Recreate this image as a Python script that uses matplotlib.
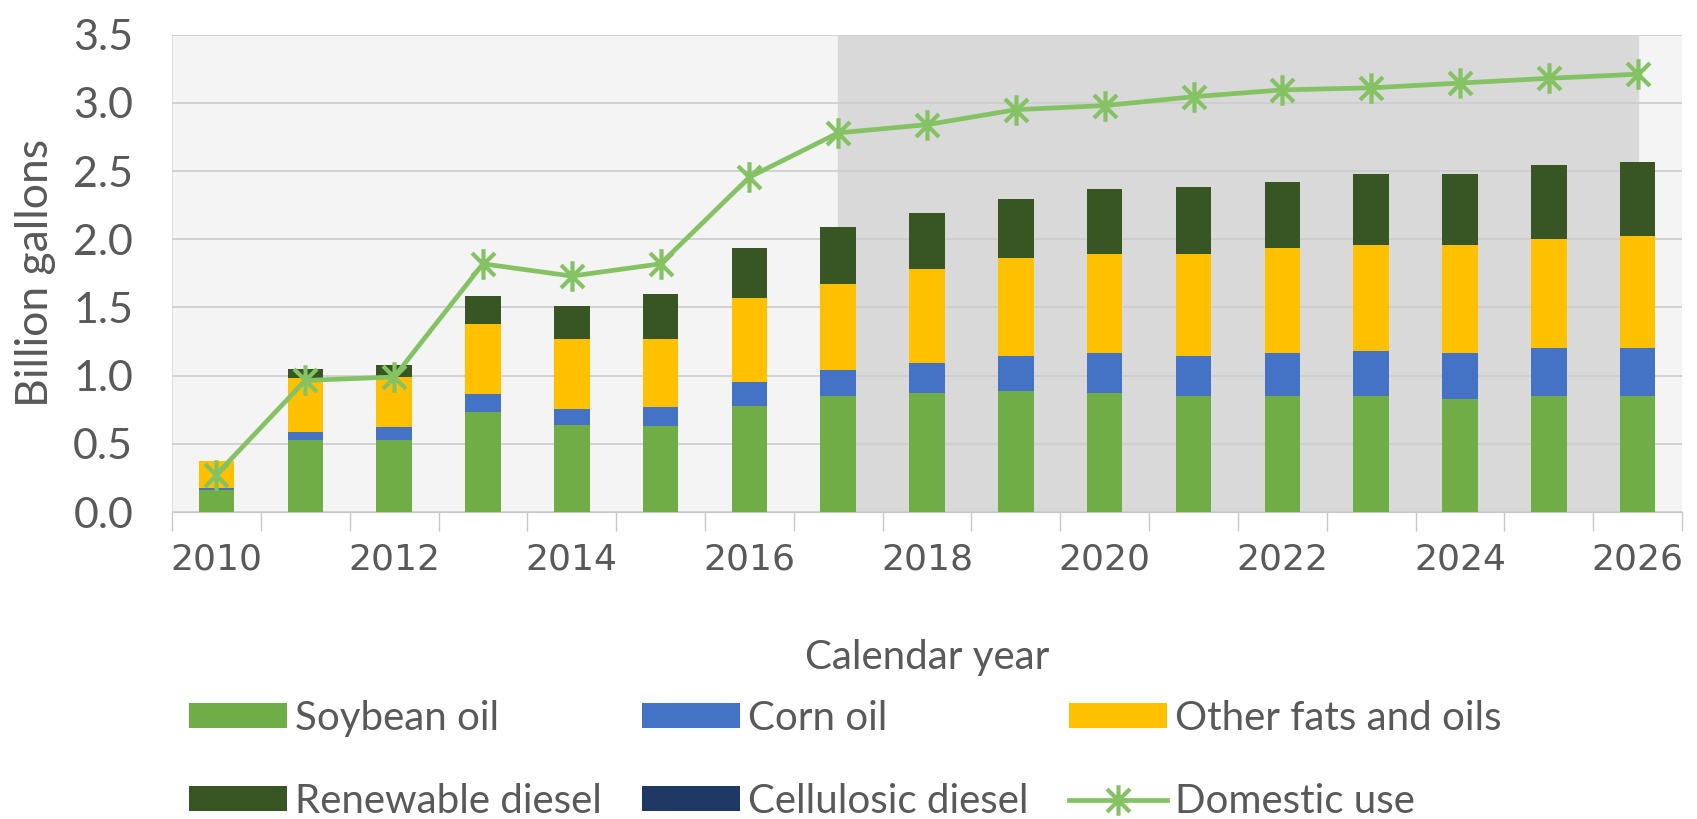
import numpy as np
import matplotlib.pyplot as plt
from matplotlib.path import Path

years = list(range(2010, 2027))
soybean = [0.16, 0.53, 0.53, 0.73, 0.64, 0.63, 0.78, 0.85, 0.87, 0.89, 0.87, 0.85, 0.85, 0.85, 0.83, 0.85, 0.85]
corn = [0.015, 0.06, 0.09, 0.135, 0.117, 0.142, 0.17, 0.19, 0.22, 0.255, 0.295, 0.295, 0.315, 0.328, 0.335, 0.353, 0.353]
other = [0.20, 0.39, 0.37, 0.51, 0.51, 0.50, 0.62, 0.63, 0.69, 0.72, 0.73, 0.75, 0.77, 0.78, 0.79, 0.80, 0.82]
renewable = [0.0, 0.07, 0.09, 0.21, 0.24, 0.33, 0.365, 0.42, 0.41, 0.43, 0.47, 0.49, 0.485, 0.52, 0.52, 0.54, 0.54]
cellulosic = [0.0] * 17
domestic = [0.275, 0.965, 0.99, 1.82, 1.73, 1.82, 2.455, 2.78, 2.84, 2.95, 2.98, 3.045, 3.095, 3.11, 3.145, 3.18, 3.21]
proj_start, proj_end = 2017, 2026

plt.rcParams['font.family'] = ['Lato', 'DejaVu Sans']
txt = "#595959"

x = np.arange(len(years))
fig = plt.figure(figsize=(16.97, 8.19), dpi=100)
ax = fig.add_axes([0.1014, 0.3748, 0.8898, 0.5829])
ax.set_facecolor("#f4f4f4")

# projection period shading
ax.axvspan(years.index(proj_start), years.index(proj_end), color="#d9d9d9", zorder=0)

series = [
    (soybean, "#70ad47", "Soybean oil"),
    (corn, "#4472c4", "Corn oil"),
    (other, "#ffc000", "Other fats and oils"),
    (renewable, "#375623", "Renewable diesel"),
    (cellulosic, "#203864", "Cellulosic diesel"),
]
bottom = np.zeros(len(years))
handles = {}
for vals, col, lab in series:
    b = ax.bar(x, vals, 0.4, bottom=bottom, color=col, label=lab, zorder=3)
    handles[lab] = b
    bottom += np.array(vals)

# Excel-style asterisk marker
ast = Path([(0, -1), (0, 1), (-0.75, -0.75), (0.75, 0.75), (-0.75, 0.75), (0.75, -0.75)],
           [Path.MOVETO, Path.LINETO, Path.MOVETO, Path.LINETO, Path.MOVETO, Path.LINETO])
ln, = ax.plot(x, domestic, color="#84c263", lw=3.4, marker=ast, ms=22, mew=3,
              mec="#84c263", mfc="none", label="Domestic use", zorder=4)
handles["Domestic use"] = ln

ax.set_xlim(-0.5, len(years) - 0.5)
ax.set_ylim(0, 3.5)
ax.set_yticks(np.arange(0, 3.51, 0.5))
ax.set_yticklabels([f"{v:.1f}" for v in np.arange(0, 3.51, 0.5)])
ax.set_xticks(x[::2])
ax.set_xticklabels([str(y) for y in years[::2]], family="DejaVu Sans")
ax.set_xticks(np.arange(-0.5, len(years), 1), minor=True)
ax.tick_params(axis="x", which="major", length=0, pad=22, labelsize=26, colors=txt)
ax.tick_params(axis="x", which="minor", length=14, width=1, color="#c8c8c8")
ax.tick_params(axis="y", length=0, pad=28, labelsize=31, colors=txt)
ax.grid(axis="y", color="#cccccc", lw=1.2, zorder=1)
ax.set_axisbelow(False)
for s in ["top", "right"]:
    ax.spines[s].set_visible(False)
ax.spines["left"].set_color("#e0e0e0")
ax.spines["bottom"].set_color("#c8c8c8")

ax.set_ylabel("Billion gallons", fontsize=32, color=txt)
ax.yaxis.set_label_coords(-0.077, 0.5)
ax.set_xlabel("Calendar year", fontsize=29, color=txt)
ax.xaxis.set_label_coords(0.5, -0.265)

order = ["Soybean oil", "Renewable diesel", "Corn oil", "Cellulosic diesel",
         "Other fats and oils", "Domestic use"]
leg = fig.legend([handles[k] for k in order], order, ncol=3, frameon=False,
                 loc="upper left", bbox_to_anchor=(0.1114, 0.1453), fontsize=29,
                 handlelength=2.43, handleheight=0.57, handletextpad=0.2,
                 labelspacing=1.14, columnspacing=1.0, borderpad=0, borderaxespad=0)
for t in leg.get_texts():
    t.set_color(txt)

fig.savefig("out.png", dpi=100)
